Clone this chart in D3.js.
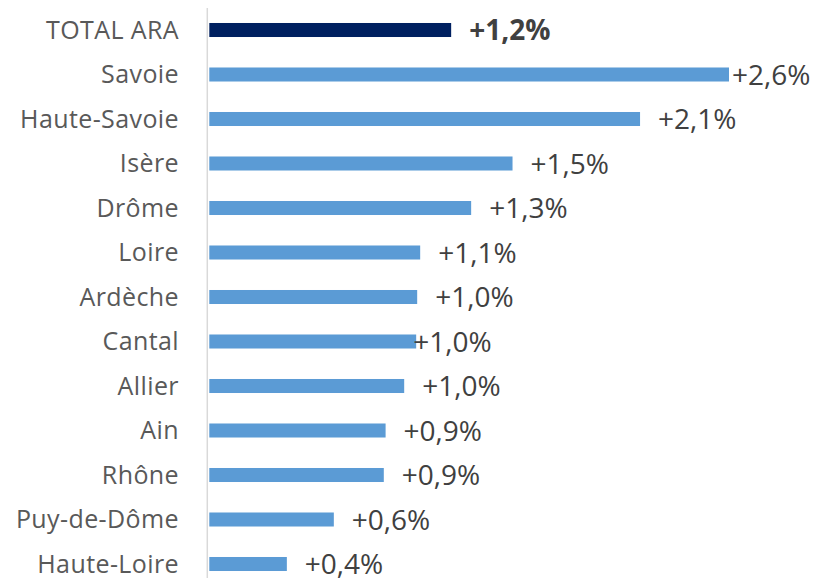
<!DOCTYPE html>
<html>
<head>
<meta charset="utf-8">
<script src="https://cdn.jsdelivr.net/npm/d3@7"></script>
<style>
  html, body { margin: 0; padding: 0; background: #ffffff; }
  svg { display: block; }
</style>
</head>
<body>
<svg id="chart" width="819" height="578"></svg>
<script>
// ---- data ----
const categories = ["TOTAL ARA", "Savoie", "Haute-Savoie", "Isère", "Drôme", "Loire", "Ardèche", "Cantal", "Allier", "Ain", "Rhône", "Puy-de-Dôme", "Haute-Loire"];
const values = [1.21, 2.60, 2.155, 1.517, 1.31, 1.055, 1.04, 1.035, 0.975, 0.882, 0.873, 0.623, 0.388];
const valueLabels = ["+1,2%", "+2,6%", "+2,1%", "+1,5%", "+1,3%", "+1,1%", "+1,0%", "+1,0%", "+1,0%", "+0,9%", "+0,9%", "+0,6%", "+0,4%"];
const totalCategory = "TOTAL ARA";

// ---- layout ----
const W = 819, H = 578;
const x0 = 209.3;
const svg = d3.select("#chart");

const x = d3.scaleLinear().domain([0, 2.6]).range([x0, 729]);
const y = d3.scaleBand().domain(categories).range([7.75, 586.25]).paddingInner(0.685).paddingOuter(0.3425);

// axis line (category axis)
svg.append("line")
  .attr("x1", x0 - 2).attr("x2", x0 - 2)
  .attr("y1", 8).attr("y2", H)
  .attr("stroke", "#d9d9d9").attr("stroke-width", 1.5);

// bars
svg.append("g").selectAll("rect")
  .data(categories)
  .join("rect")
  .attr("x", x(0))
  .attr("y", d => y(d))
  .attr("width", (d, i) => x(values[i]) - x(0))
  .attr("height", y.bandwidth())
  .attr("fill", d => d === totalCategory ? "#002060" : "#5b9bd5");

// category labels
svg.append("g").selectAll("text")
  .data(categories)
  .join("text")
  .attr("x", 179)
  .attr("y", d => y(d) + y.bandwidth() / 2)
  .attr("dy", "0.34em")
  .attr("text-anchor", "end")
  .attr("font-family", "'Open Sans', sans-serif")
  .attr("font-size", 25)
  .attr("letter-spacing", 0.4)
  .attr("fill", "#595959")
  .text(d => d);

// value labels (Excel-style manual nudges for a couple of labels)
const nudge = { "Savoie": -15, "Cantal": -21 };
svg.append("g").selectAll("text")
  .data(categories)
  .join("text")
  .attr("x", (d, i) => x(values[i]) + 18 + (nudge[d] || 0))
  .attr("y", d => y(d) + y.bandwidth() / 2)
  .attr("dy", "0.36em")
  .attr("font-family", "'Open Sans', sans-serif")
  .attr("font-size", 28)
  .attr("font-weight", d => d === totalCategory ? "bold" : "normal")
  .attr("fill", "#404040")
  .text((d, i) => valueLabels[i]);
</script>
</body>
</html>
